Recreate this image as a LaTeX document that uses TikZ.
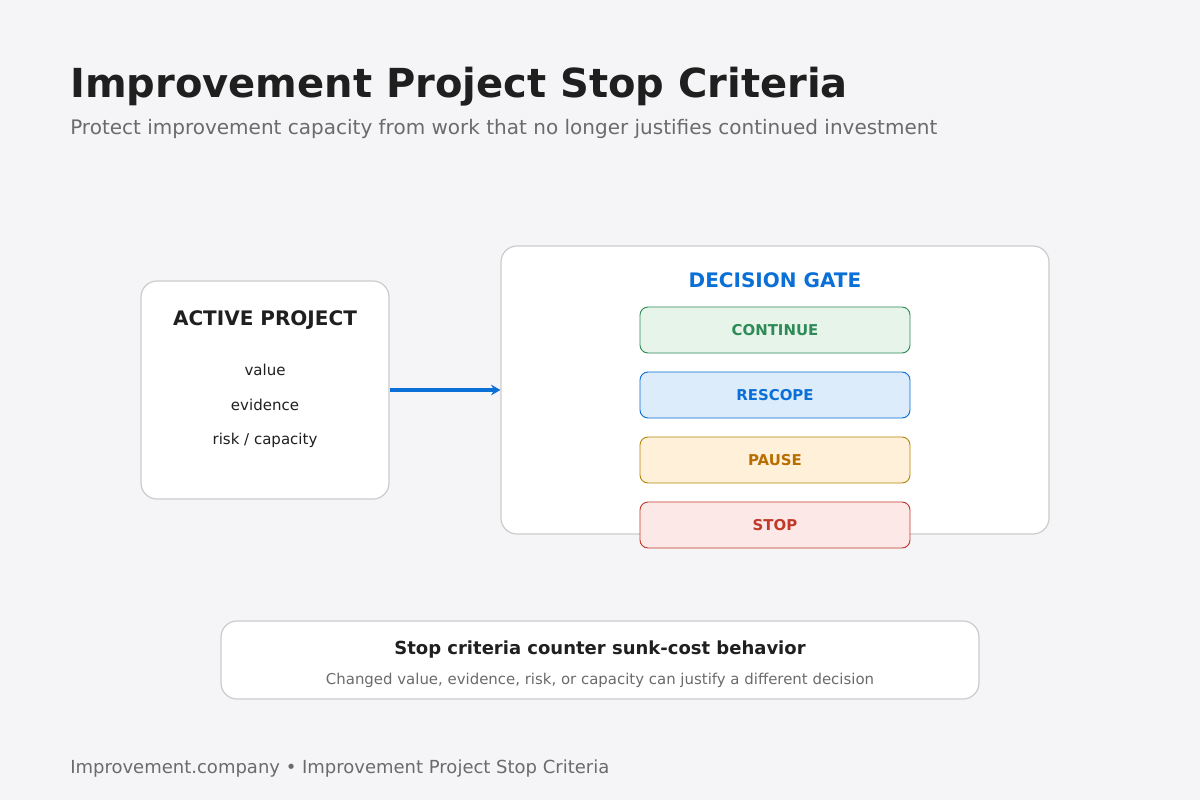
\documentclass[tikz,border=0pt]{standalone}
\usepackage{fontspec}
\setmainfont{DejaVu Sans}
\usetikzlibrary{positioning, arrows.meta}
\definecolor{bgcol}{HTML}{F5F5F7}
\definecolor{ink}{HTML}{1F1F1F}
\definecolor{muted}{HTML}{6B6B6B}
\definecolor{edge}{HTML}{CCCCCC}
\definecolor{gateblue}{HTML}{0A6FD6}
\definecolor{okgreen}{HTML}{2E8B57}
\definecolor{okfill}{HTML}{E6F4EA}
\definecolor{rsfill}{HTML}{DCECFB}
\definecolor{pauseline}{HTML}{B8860B}
\definecolor{pausetext}{HTML}{B86E00}
\definecolor{pausefill}{HTML}{FFF0D9}
\definecolor{stopred}{HTML}{C0392B}
\definecolor{stopfill}{HTML}{FDE8E8}
\begin{document}
\begin{tikzpicture}[x=0.75pt,y=-0.75pt,
    card/.style={draw=edge, fill=white, rounded corners=12pt, line width=0.9pt},
    option/.style={rounded corners=6pt, line width=0.7pt, minimum width=202.5pt,
        minimum height=34.5pt, font=\fontsize{11.2}{13}\selectfont\bfseries},
    small/.style={font=\fontsize{11.25}{13}\selectfont, text=ink}]
  % Background
  \fill[bgcol] (0,0) rectangle (1200,800);
  \useasboundingbox (0,0) rectangle (1200,800);

  % Heading
  \node[anchor=base west, inner sep=0pt, text=ink, font=\fontsize{30}{34}\selectfont\bfseries] (title) at (70,97) {Improvement Project Stop Criteria};
  \node[anchor=base west, inner sep=0pt, text=muted, font=\fontsize{15}{17}\selectfont] (subtitle) at (70,134) {Protect improvement capacity from work that no longer justifies continued investment};

  % Active project
  \node[card, minimum width=186pt, minimum height=163.5pt] (active) at (265,390) {};
  \node[text=ink, font=\fontsize{15}{17}\selectfont\bfseries] (activetitle) at (265,320) {ACTIVE PROJECT};
  \node[small] (value) at (265,370) {value};
  \node[small] (evidence) at (265,405) {evidence};
  \node[small] (risk) at (265,440) {risk / capacity};

  % Decision gate
  \node[card, minimum width=411pt, minimum height=216pt] (gate) at (775,390) {};
  \node[text=gateblue, font=\fontsize{15}{17}\selectfont\bfseries] (gatetitle) at (775,280) {DECISION GATE};
  \node[option, draw=okgreen, fill=okfill, text=okgreen] (continue) at (775,330) {CONTINUE};
  \node[option, draw=gateblue, fill=rsfill, text=gateblue] (rescope) at (775,395) {RESCOPE};
  \node[option, draw=pauseline, fill=pausefill, text=pausetext] (pause) at (775,460) {PAUSE};
  \node[option, draw=stopred, fill=stopfill, text=stopred] (stop) at (775,525) {STOP};

  % Flow
  \draw[gateblue, line width=3pt, -{Stealth[length=7pt,width=8pt]}] (active.east) -- (gate.west);

  % Takeaway
  \node[card, minimum width=568.5pt, minimum height=58.5pt] (note) at (600,660) {};
  \node[text=ink, font=\fontsize{13.5}{15}\selectfont\bfseries] (notetitle) at (600,650) {Stop criteria counter sunk-cost behavior};
  \node[text=muted, font=\fontsize{11.2}{13}\selectfont] (notetext) at (600,680) {Changed value, evidence, risk, or capacity can justify a different decision};

  % Footer
  \node[anchor=base west, inner sep=0pt, text=muted, font=\fontsize{13.5}{15}\selectfont] (footer) at (70,773) {Improvement.company • Improvement Project Stop Criteria};
\end{tikzpicture}
\end{document}
